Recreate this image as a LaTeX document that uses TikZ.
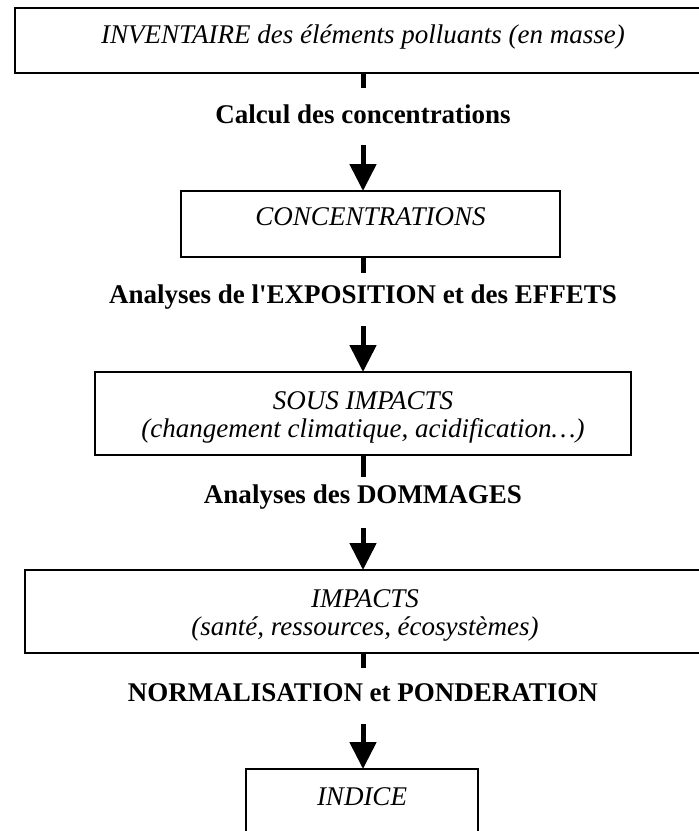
\documentclass[tikz,border=0pt]{standalone}
\usepackage{fontspec}
\setmainfont{Liberation Serif}
\newfontfamily\aposfont{Liberation Serif}
\usetikzlibrary{arrows.meta}
\newcommand\boxfont{\fontsize{27bp}{28bp}\selectfont\itshape}
\newcommand\labfont{\fontsize{27bp}{28bp}\selectfont\bfseries}
\newcommand\topstrut{\rule{0pt}{25bp}}
\begin{document}
\begin{tikzpicture}[x=1bp,y=-1bp,
  every node/.style={inner sep=0pt, outer sep=0pt},
  box/.style={draw, line width=1.8bp, align=center, font=\boxfont},
  lab/.style={anchor=base, font=\labfont},
  stub/.style={line width=5bp},
  conn/.style={line width=5bp, -{Triangle[width=26bp,length=27bp]}}]
\useasboundingbox (0,0) rectangle (699,831);
% boxes
\node[box, minimum width=696bp, minimum height=65bp, text height=18bp, text depth=13bp] (b1) at (363,40.5)
  {INVENTAIRE des éléments polluants (en masse)};
\node[box, minimum width=379bp, minimum height=66bp, text height=18bp, text depth=16bp] (b2) at (370.5,224)
  {CONCENTRATIONS};
\node[box, minimum width=536bp, minimum height=83bp] (b3) at (363,413.5)
  {\topstrut SOUS IMPACTS\\(changement climatique, acidification…)};
\node[box, minimum width=680bp, minimum height=83bp] (b4) at (365,611.5)
  {\topstrut IMPACTS\\(santé, ressources, écosystèmes)};
\node[box, minimum width=232bp, minimum height=72bp, text height=18bp, text depth=18bp] (b5) at (362,805)
  {INDICE};
% labels
\node[lab] (l1) at (363,123) {Calcul des concentrations};
\node[lab] (l2) at (363,303) {Analyses de l{\aposfont\symbol{39}}EXPOSITION et des EFFETS};
\node[lab] (l3) at (363,503) {Analyses des DOMMAGES};
\node[lab] (l4) at (363,701) {NORMALISATION et PONDERATION};
% connector ends
\coordinate (s1) at (363,88);  \coordinate (a1) at (363,145);
\coordinate (s2) at (363,273); \coordinate (a2) at (363,326);
\coordinate (s3) at (363,477); \coordinate (a3) at (363,528);
\coordinate (s4) at (363,668); \coordinate (a4) at (363,724);
% connectors
\draw[stub] (b1.south -| s1) -- (s1);
\draw[conn] (a1) -- (a1 |- b2.north);
\draw[stub] (b2.south -| s2) -- (s2);
\draw[conn] (a2) -- (a2 |- b3.north);
\draw[stub] (b3.south -| s3) -- (s3);
\draw[conn] (a3) -- (a3 |- b4.north);
\draw[stub] (b4.south -| s4) -- (s4);
\draw[conn] (a4) -- (a4 |- b5.north);
\end{tikzpicture}
\end{document}
